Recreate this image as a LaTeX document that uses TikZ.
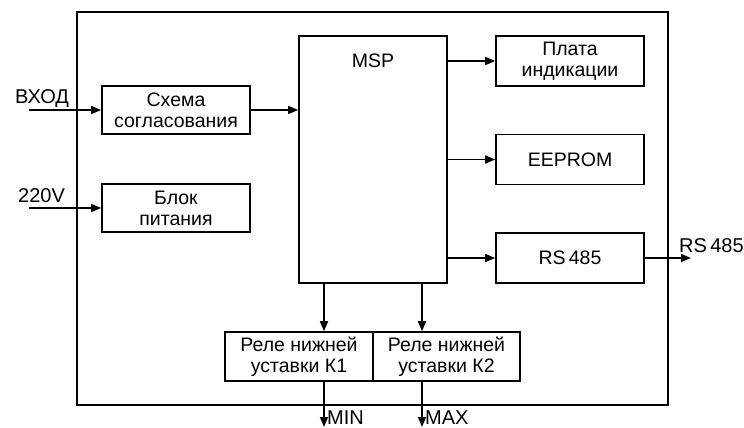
\documentclass[tikz,border=0pt]{standalone}
\usepackage{fontspec}
\setmainfont{Liberation Sans}
\usetikzlibrary{arrows.meta}
\begin{document}
\begin{tikzpicture}[x=1pt,y=-1pt,
  blk/.style={draw,line width=1.6pt,inner sep=0pt,align=center,
    font=\fontsize{19.5}{21}\selectfont},
  lbl/.style={inner sep=0pt,font=\fontsize{20}{21}\selectfont},
  arr/.style={line width=1.6pt,-{Triangle[length=10pt,width=8pt]}}]
\useasboundingbox (0,0) rectangle (744,428);
% outer frame
\node[draw,line width=1.6pt,minimum width=591pt,minimum height=393pt,inner sep=0pt] (frame) at (372.5,208.5) {};
% blocks
\node[blk,minimum width=148pt,minimum height=48pt] (sch) at (176,110) {Схема\\согласования};
\node[blk,minimum width=148pt,minimum height=48pt] (pit) at (176,208) {Блок\\питания};
\node[blk,minimum width=148pt,minimum height=247pt] (msp) at (373,159.5) {};
\node[inner sep=0pt,font=\fontsize{19.5}{21}\selectfont] (mspt) at (373,61) {MSP};
\node[blk,minimum width=148pt,minimum height=50pt] (ind) at (570,61) {Плата\\индикации};
\node[blk,minimum width=148pt,minimum height=50pt] (eep) at (570,159.5) {EEPROM};
\node[blk,minimum width=148pt,minimum height=50pt] (rs) at (570,258) {RS\,485};
\node[blk,minimum width=148pt,minimum height=49pt] (k1) at (299,356.5) {Реле нижней\\уставки К1};
\node[blk,minimum width=147pt,minimum height=49pt] (k2) at (446.5,356.5) {Реле нижней\\уставки К2};
% external labels
\node[lbl,anchor=base west] (vx) at (15,103) {ВХОД};
\node[lbl,anchor=base west] (v220) at (18,202) {220V};
\node[lbl,anchor=base west] (rsl) at (679,252) {RS\,485};
\node[lbl,anchor=base west] (minl) at (327,424) {MIN};
\node[lbl,anchor=base west] (maxl) at (425,424) {MAX};
% coordinates
\coordinate (vxs) at (29,110);
\coordinate (v220s) at (29,208);
\coordinate (rse) at (691,258);
\coordinate (c1) at (324,0);
\coordinate (c2) at (422,0);
\coordinate (mine) at (0,427);
% connectors
\draw[arr] (vxs) -- (sch.west);
\draw[arr] (v220s) -- (pit.west);
\draw[arr] (sch.east) -- (sch.east -| msp.west);
\draw[arr] (ind.west -| msp.east) -- (ind.west);
\draw[arr] (eep.west -| msp.east) -- (eep.west);
\draw[arr] (rs.west -| msp.east) -- (rs.west);
\draw[arr] (rs.east) -- (rse);
\draw[arr] (c1 |- msp.south) -- (c1 |- k1.north);
\draw[arr] (c2 |- msp.south) -- (c2 |- k2.north);
\draw[arr] (c1 |- k1.south) -- (c1 |- mine);
\draw[arr] (c2 |- k2.south) -- (c2 |- mine);
\end{tikzpicture}
\end{document}
